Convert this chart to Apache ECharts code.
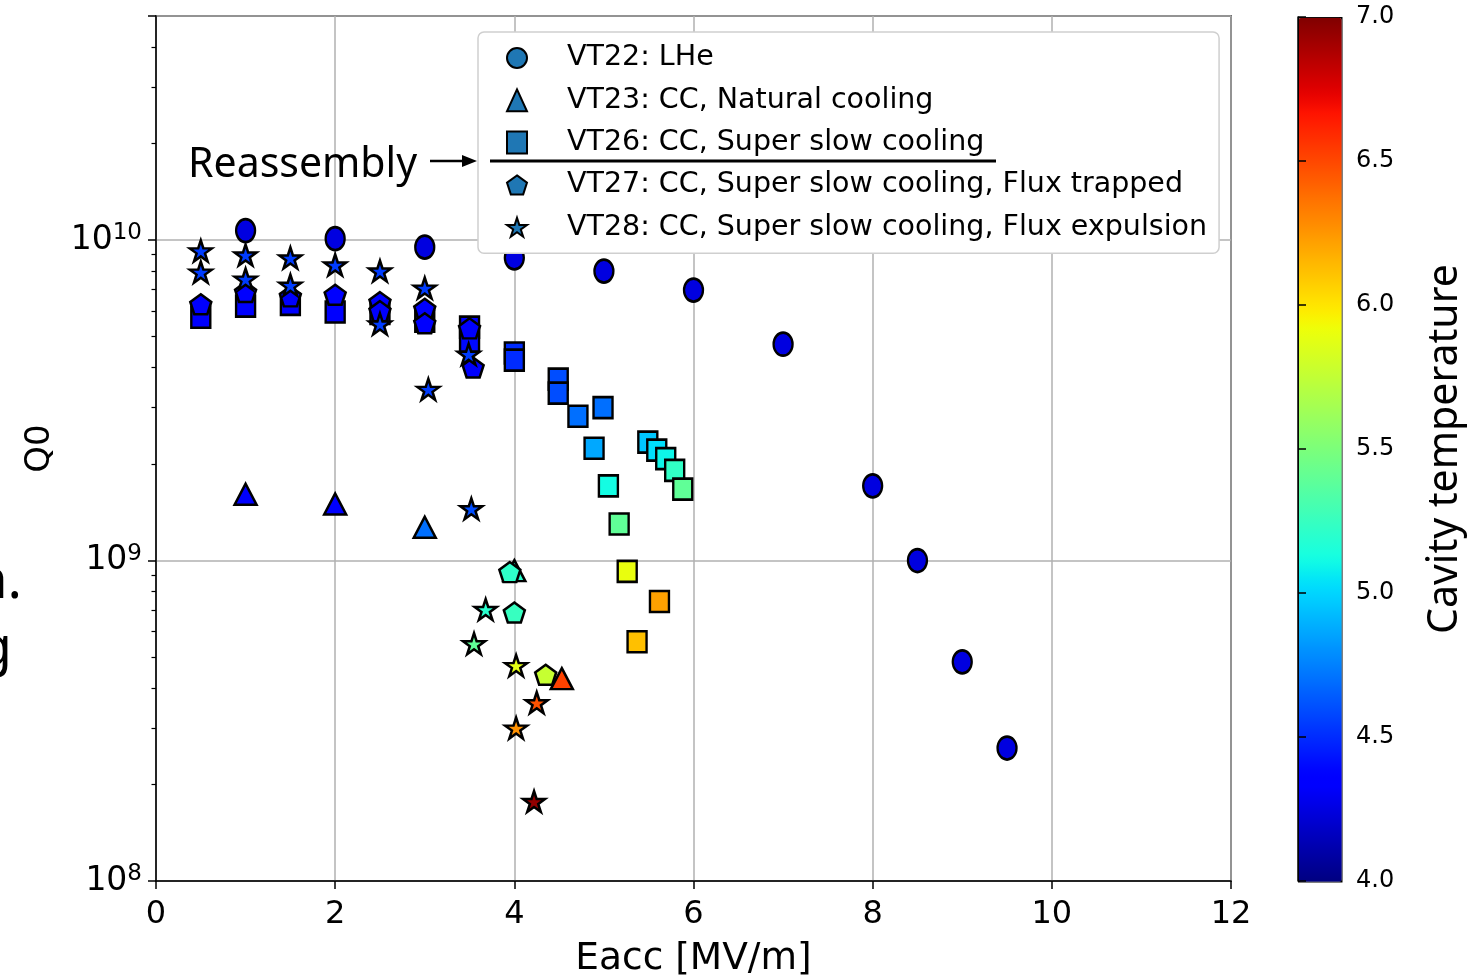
<!DOCTYPE html>
<html><head><meta charset="utf-8">
<script src="https://cdn.jsdelivr.net/npm/echarts@6/dist/echarts.min.js"></script>
<style>html,body{margin:0;padding:0;background:#fff}#c{width:1478px;height:975px}</style>
</head><body><div id="c"></div>
<script>
// ---- data ----
const seriesNames = ['VT22: LHe','VT23: CC, Natural cooling','VT26: CC, Super slow cooling','VT27: CC, Super slow cooling, Flux trapped','VT28: CC, Super slow cooling, Flux expulsion'];

const vt22_E = [1,2,3,4,5,6,7,8,8.5,9,9.5];
const vt22_Q = [1.07e10,1.01e10,9.5e9,8.8e9,8.0e9,6.98e9,4.73e9,1.71e9,1.0e9,4.83e8,2.6e8];
const vt22_T = [4.25,4.25,4.25,4.25,4.25,4.25,4.25,4.25,4.25,4.25,4.25];

const vt23_E = [1,2,3,4.0,4.53];
const vt23_Q = [1.61e9,1.5e9,1.27e9,9.3e8,4.28e8];
const vt23_T = [4.35,4.35,4.7,5.2,6.52];

const vt26_E = [0.5,1,1.5,2,2.5,3,3.5,3.5,4,4,4.49,4.49,4.71,4.99,4.89,5.05,5.17,5.49,5.59,5.69,5.79,5.88,5.26,5.62,5.37];
const vt26_Q = [5.74e9,6.22e9,6.3e9,5.96e9,5.9e9,5.58e9,5.35e9,4.83e9,4.44e9,4.22e9,3.68e9,3.33e9,2.82e9,3.0e9,2.24e9,1.71e9,1.3e9,2.34e9,2.21e9,2.08e9,1.91e9,1.67e9,9.25e8,7.45e8,5.58e8];
const vt26_T = [4.35,4.35,4.35,4.35,4.35,4.35,4.35,4.4,4.5,4.5,4.6,4.6,4.7,4.7,4.87,5.12,5.4,4.96,5.03,5.1,5.23,5.4,5.9,6.22,6.12];

const vt27_E = [0.5,1,1.5,2,2.5,2.5,3,3,3.5,3.54,3.95,4.0,4.35];
const vt27_Q = [6.3e9,6.88e9,6.67e9,6.75e9,6.4e9,6.0e9,6.1e9,5.5e9,5.3e9,4.0e9,9.2e8,6.88e8,4.4e8];
const vt27_T = [4.35,4.35,4.35,4.35,4.35,4.35,4.35,4.35,4.35,4.35,5.22,5.25,5.77];

const vt28_E = [0.5,0.5,1,1,1.5,1.5,2,2.5,2.5,3,3.49,3.04,3.52,3.68,3.55,4.02,4.25,4.02,4.22];
const vt28_Q = [9.25e9,7.94e9,8.98e9,7.55e9,8.79e9,7.23e9,8.36e9,8.0e9,5.47e9,7.08e9,4.4e9,3.42e9,1.45e9,7.03e8,5.5e8,4.7e8,3.6e8,3.0e8,1.77e8];
const vt28_T = [4.55,4.55,4.55,4.55,4.55,4.55,4.55,4.55,4.55,4.55,4.55,4.55,4.6,5.2,5.4,5.88,6.47,6.27,6.95];

const xTicks = [0,2,4,6,8,10,12];
const yExponents = [8,9,10];
const cbarTicks = [4.0,4.5,5.0,5.5,6.0,6.5,7.0];

// ---- styling helpers ----
const pentagon = 'path://M0,-1 L0.951,-0.309 L0.588,0.809 L-0.588,0.809 L-0.951,-0.309 Z';
const star = 'path://M0,-1 L0.2245,-0.309 L0.951,-0.309 L0.363,0.118 L0.588,0.809 L0,0.382 L-0.588,0.809 L-0.363,0.118 L-0.951,-0.309 L-0.2245,-0.309 Z';

// matplotlib jet colormap (segment data)
function seg(pts, t){ for(let i=1;i<pts.length;i++){ if(t<=pts[i][0]){ const a=pts[i-1],b=pts[i]; return a[1]+(b[1]-a[1])*(t-a[0])/(b[0]-a[0]); } } return pts[pts.length-1][1]; }
const R=[[0,0],[0.35,0],[0.66,1],[0.89,1],[1,0.5]];
const G=[[0,0],[0.125,0],[0.375,1],[0.64,1],[0.91,0],[1,0]];
const B=[[0,0.5],[0.11,1],[0.34,1],[0.65,0],[1,0]];
const jet=[]; for(let i=0;i<=64;i++){ const t=i/64; const c=[seg(R,t),seg(G,t),seg(B,t)].map(v=>Math.round(v*255)); jet.push('rgb('+c.join(',')+')'); }

function pack(E,Q,T){ return E.map((e,i)=>[e,Q[i],T[i]]); }
const font = '"DejaVu Sans", sans-serif';
const mk = {borderColor:'#000', borderWidth:2.5, color:'#1f77b4', opacity:1};

function sc(name, data, symbol, size){
  return {type:'scatter', name, data, symbol, symbolSize:size, xAxisIndex:0, yAxisIndex:0,
    itemStyle:mk, emphasis:{disabled:true}, silent:true, animation:false};
}

const chart = echarts.init(document.getElementById('c'), null, {renderer:'canvas'});
chart.setOption({
  backgroundColor:'#fff',
  animation:false,
  grid:[
    {left:156, right:247, top:16, bottom:94, show:true, borderColor:'#000', borderWidth:1.5, backgroundColor:'transparent', containLabel:false, outerBoundsMode:'none'},
    {left:1298, right:137, top:17, bottom:94, show:false, containLabel:false, outerBoundsMode:'none'}
  ],
  xAxis:[
    {type:'value', gridIndex:0, min:0, max:12, interval:2,
     axisLine:{show:true, onZero:false, lineStyle:{color:'#000', width:1.5}},
     axisTick:{show:true, length:8, lineStyle:{color:'#000', width:1.5}},
     axisLabel:{fontSize:32, fontFamily:font, color:'#000', margin:18,
       formatter:v=>xTicks.includes(v)?String(v):''},
     splitLine:{show:true, lineStyle:{color:'#b0b0b0', width:1.5}},
     name:'Eacc [MV/m]', nameLocation:'middle', nameGap:59,
     nameTextStyle:{fontSize:37.5, fontFamily:font, color:'#000'}},
    {type:'value', gridIndex:1, min:0, max:1, show:false}
  ],
  yAxis:[
    {type:'log', gridIndex:0, logBase:10, min:1e8, max:5e10,
     axisLine:{show:true, onZero:false, lineStyle:{color:'#000', width:1.5}},
     axisTick:{show:true, length:8, lineStyle:{color:'#000', width:1.5}},
     axisLabel:{color:'#000', margin:14, fontFamily:font,
       formatter:function(v){ const e=Math.log10(v); const r=Math.round(e); if(Math.abs(e-r)<1e-6 && yExponents.includes(r)) return '{b|10}{s|'+r+'}'; return ''; },
       rich:{ b:{fontSize:33, lineHeight:36, fontFamily:font, color:'#000'},
              s:{fontSize:23, lineHeight:24, verticalAlign:'top', fontFamily:font, color:'#000'} }},
     splitLine:{show:true, lineStyle:{color:'#b0b0b0', width:1.5}},
     name:'Q0', nameLocation:'middle', nameGap:99, nameRotate:90,
     nameTextStyle:{fontSize:34, fontFamily:font, color:'#000'}},
    {type:'log', gridIndex:0, logBase:10, min:1e8, max:5e10, position:'left',
     axisLine:{show:false}, splitLine:{show:false},
     axisLabel:{show:false},
     axisTick:{show:true, length:4.5, lineStyle:{color:'#000', width:1.2},
       customValues:[2e8,3e8,4e8,5e8,6e8,7e8,8e8,9e8,2e9,3e9,4e9,5e9,6e9,7e9,8e9,9e9,2e10,3e10,4e10]}},
    {type:'value', gridIndex:1, min:4, max:7, interval:0.5, position:'right', z:10,
     axisLine:{show:true, lineStyle:{color:'#000', width:1.5}},
     axisTick:{show:true, length:8, lineStyle:{color:'#000', width:1.5}},
     axisLabel:{fontSize:24, fontFamily:font, color:'#000', margin:15,
       formatter:v=>cbarTicks.includes(v)?v.toFixed(1):''},
     splitLine:{show:false},
     name:'Cavity temperature', nameLocation:'middle', nameGap:84, nameRotate:90,
     nameTextStyle:{fontSize:41, fontFamily:'"Noto Sans", sans-serif', color:'#000'}}
  ],
  visualMap:{type:'continuous', min:4, max:7, dimension:2, seriesIndex:[0,1,2,3,4],
    inRange:{color:jet}, left:1298, top:17, itemWidth:43, itemHeight:864, padding:0,
    calculable:false, hoverLink:false, showLabel:false, text:null,
    borderColor:'#000', borderWidth:1.5},
  legend:{orient:'vertical', left:478, top:32, padding:[11,12,11,28], itemGap:12.3,
    itemWidth:20, itemHeight:22, selectedMode:false,
    backgroundColor:'#fff', borderColor:'#cfcfcf', borderWidth:1.5, borderRadius:6,
    itemStyle:{color:'#1f77b4', borderColor:'#000', borderWidth:2},
    textStyle:{fontSize:28.5, fontFamily:font, color:'#000', lineHeight:30, padding:[0,0,0,35]},
    data:[
      {name:seriesNames[0], icon:'circle'},
      {name:seriesNames[1], icon:'triangle'},
      {name:seriesNames[2], icon:'rect'},
      {name:seriesNames[3], icon:pentagon},
      {name:seriesNames[4], icon:star}
    ]},
  graphic:[
    {type:'text', x:188, y:165, z:100, style:{text:'Reassembly', font:'41px "Noto Sans", sans-serif', fill:'#000', verticalAlign:'middle'}},
    {type:'line', z:100, shape:{x1:430,y1:161,x2:466,y2:161}, style:{stroke:'#000', lineWidth:2.5}},
    {type:'polygon', z:100, shape:{points:[[477,161],[462,155],[462,167]]}, style:{fill:'#000'}},
    {type:'line', z:100, shape:{x1:490,y1:161,x2:996,y2:161}, style:{stroke:'#000', lineWidth:3}},
    {type:'text', x:22, y:583, z:100, style:{text:'n.', font:'54px "Noto Sans", sans-serif', fill:'#000', align:'right', verticalAlign:'middle'}},
    {type:'text', x:12, y:650, z:100, style:{text:'g', font:'54px "Noto Sans", sans-serif', fill:'#000', align:'right', verticalAlign:'middle'}}
  ],
  series:[
    sc(seriesNames[0], pack(vt22_E,vt22_Q,vt22_T), 'circle', [19,23]),
    sc(seriesNames[1], pack(vt23_E,vt23_Q,vt23_T), 'triangle', [22,21]),
    sc(seriesNames[2], pack(vt26_E,vt26_Q,vt26_T), 'rect', [19,21]),
    sc(seriesNames[3], pack(vt27_E,vt27_Q,vt27_T), pentagon, [21,20]),
    sc(seriesNames[4], pack(vt28_E,vt28_Q,vt28_T), star, [22,21])
  ]
});
</script></body></html>
